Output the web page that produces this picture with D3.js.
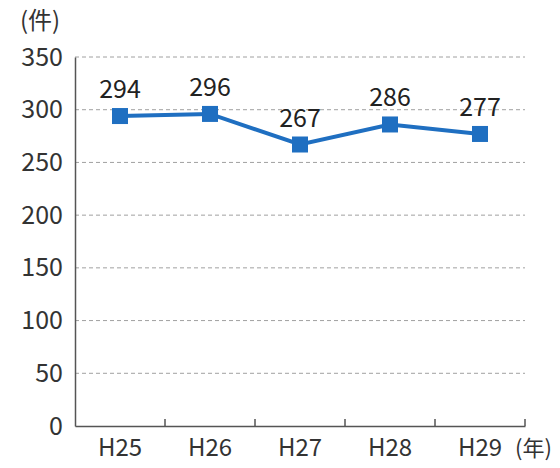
<!DOCTYPE html>
<html>
<head>
<meta charset="utf-8">
<script src="https://cdn.jsdelivr.net/npm/d3@7"></script>
<style>
  body { margin: 0; background: #fff; }
  text { font-family: "Noto Sans CJK JP", "Noto Sans", sans-serif; }
</style>
</head>
<body>
<svg id="chart" width="560" height="468"></svg>
<script>
// 年度ごとの件数
const years = ["H25", "H26", "H27", "H28", "H29"];
const counts = [294, 296, 267, 286, 277];
const yTicks = [0, 50, 100, 150, 200, 250, 300, 350];

const svg = d3.select("#chart");
const margin = {left: 75, right: 35, top: 57, bottom: 42};
const W = 560, H = 468;

const x = d3.scaleBand()
    .domain(years)
    .range([margin.left, W - margin.right]);

const y = d3.scaleLinear()
    .domain([0, 350])
    .range([H - margin.bottom, margin.top]);

// grid lines
svg.append("g")
    .selectAll("line")
    .data(yTicks.filter(d => d > 0))
    .join("line")
    .attr("x1", margin.left)
    .attr("x2", W - margin.right)
    .attr("y1", d => y(d))
    .attr("y2", d => y(d))
    .attr("stroke", "#a0a0a0")
    .attr("stroke-width", 1)
    .attr("stroke-dasharray", "4,3");

// y axis
const yAxis = svg.append("g")
    .attr("transform", `translate(${margin.left},0)`)
    .call(d3.axisLeft(y).tickValues(yTicks).tickSize(0).tickPadding(12));
yAxis.select(".domain").attr("stroke", "#555").attr("stroke-width", 1.5);
yAxis.selectAll("text")
    .attr("font-size", 25)
    .attr("fill", "#333");

// x axis
const xAxis = svg.append("g")
    .attr("transform", `translate(0,${y(0)})`)
    .call(d3.axisBottom(x).tickSize(0).tickPadding(13));
xAxis.select(".domain").attr("stroke", "#555").attr("stroke-width", 1.5);
xAxis.selectAll("text")
    .attr("font-size", 24)
    .attr("fill", "#333");

// boundary tick marks
svg.append("g")
    .selectAll("line")
    .data(years)
    .join("line")
    .attr("x1", d => x(d) + x.bandwidth())
    .attr("x2", d => x(d) + x.bandwidth())
    .attr("y1", y(0))
    .attr("y2", y(0) - 7)
    .attr("stroke", "#555")
    .attr("stroke-width", 1.5);

// unit labels
svg.append("text")
    .attr("x", 20)
    .attr("y", 29)
    .attr("font-size", 24)
    .attr("fill", "#333")
    .text("(件)");

svg.append("text")
    .attr("x", x("H29") + x.bandwidth() / 2 + 35)
    .attr("y", y(0) + 30)
    .attr("font-size", 22)
    .attr("fill", "#333")
    .text("(年)");

const cx = d => x(d) + x.bandwidth() / 2;

// line
svg.append("path")
    .datum(counts)
    .attr("fill", "none")
    .attr("stroke", "#1f6fc1")
    .attr("stroke-width", 4)
    .attr("d", d3.line().x((d, i) => cx(years[i])).y(d => y(d)));

// markers
svg.append("g")
    .selectAll("rect")
    .data(counts)
    .join("rect")
    .attr("x", (d, i) => cx(years[i]) - 8)
    .attr("y", d => y(d) - 8)
    .attr("width", 16)
    .attr("height", 16)
    .attr("fill", "#1f6fc1");

// value labels
svg.append("g")
    .selectAll("text")
    .data(counts)
    .join("text")
    .attr("x", (d, i) => cx(years[i]))
    .attr("y", d => y(d) - 18)
    .attr("text-anchor", "middle")
    .attr("font-size", 25)
    .attr("fill", "#222")
    .text(d => d);
</script>
</body>
</html>
